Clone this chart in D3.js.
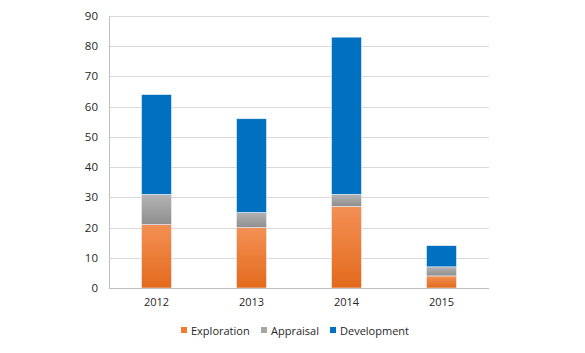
<!DOCTYPE html>
<html>
<head>
<meta charset="utf-8">
<script src="https://cdn.jsdelivr.net/npm/d3@7"></script>
<style>
  html, body { margin: 0; padding: 0; background: #fff; }
  svg { display: block; font-family: "Open Sans", "DejaVu Sans", sans-serif; }
</style>
</head>
<body>
<div id="chart"></div>
<script>
const years = ['2012', '2013', '2014', '2015'];
const seriesNames = ['Exploration', 'Appraisal', 'Development'];
const exploration = [21, 20, 27, 4];
const appraisal = [10, 5, 4, 3];
const development = [33, 31, 52, 7];
const yTicks = [0, 10, 20, 30, 40, 50, 60, 70, 80, 90];

const W = 585, H = 353;
const margin = { top: 16, right: 96, bottom: 65, left: 109 };

const svg = d3.select('#chart').append('svg')
  .attr('width', W)
  .attr('height', H);

const defs = svg.append('defs');
function grad(id, top, bottom) {
  const g = defs.append('linearGradient')
    .attr('id', id).attr('x1', 0).attr('y1', 0).attr('x2', 0).attr('y2', 1);
  g.append('stop').attr('offset', '0%').attr('stop-color', top);
  g.append('stop').attr('offset', '100%').attr('stop-color', bottom);
}
grad('g-expl', '#f39055', '#e36a1c');
grad('g-appr', '#b4b4b4', '#8e8e8e');

const fills = {
  'Exploration': 'url(#g-expl)',
  'Appraisal': 'url(#g-appr)',
  'Development': '#0070c0'
};
const legendColors = {
  'Exploration': '#f07c32',
  'Appraisal': '#a5a5a5',
  'Development': '#0070c0'
};

const rows = years.map((y, i) => ({
  year: y,
  Exploration: exploration[i],
  Appraisal: appraisal[i],
  Development: development[i]
}));

const x = d3.scaleBand()
  .domain(years)
  .range([margin.left, W - margin.right])
  .paddingInner(0.685)
  .paddingOuter(0.3425);

const y = d3.scaleLinear()
  .domain([0, 90])
  .range([H - margin.bottom, margin.top]);

// gridlines
svg.append('g')
  .selectAll('line')
  .data(yTicks)
  .join('line')
  .attr('x1', margin.left)
  .attr('x2', W - margin.right)
  .attr('y1', d => Math.round(y(d)) + 0.5)
  .attr('y2', d => Math.round(y(d)) + 0.5)
  .attr('stroke', '#d9d9d9')
  .attr('stroke-width', 1);

// y axis line
svg.append('line')
  .attr('x1', margin.left + 0.5).attr('x2', margin.left + 0.5)
  .attr('y1', y(90)).attr('y2', y(0))
  .attr('stroke', '#bfbfbf');

// y tick labels
svg.append('g')
  .selectAll('text')
  .data(yTicks)
  .join('text')
  .attr('x', margin.left - 11)
  .attr('y', d => y(d))
  .attr('dy', '0.35em')
  .attr('text-anchor', 'end')
  .attr('font-size', 11.5)
  .attr('fill', '#262626')
  .text(d => d);

// stacked bars
const stack = d3.stack().keys(seriesNames);
const layers = stack(rows);

svg.append('g')
  .selectAll('g')
  .data(layers)
  .join('g')
  .attr('fill', d => fills[d.key])
  .selectAll('rect')
  .data(d => d)
  .join('rect')
  .attr('x', d => x(d.data.year))
  .attr('width', x.bandwidth())
  .attr('y', d => y(d[1]))
  .attr('height', d => y(d[0]) - y(d[1]))
  .attr('stroke', '#e8eef5')
  .attr('stroke-width', 0.6);

// x axis line
svg.append('line')
  .attr('x1', margin.left).attr('x2', W - margin.right)
  .attr('y1', Math.round(y(0)) + 0.5).attr('y2', Math.round(y(0)) + 0.5)
  .attr('stroke', '#bfbfbf');

// x labels
svg.append('g')
  .selectAll('text')
  .data(years)
  .join('text')
  .attr('x', d => x(d) + x.bandwidth() / 2)
  .attr('y', y(0) + 18)
  .attr('text-anchor', 'middle')
  .attr('font-size', 11)
  .attr('fill', '#262626')
  .text(d => d);

// legend
const legendX = [181, 261, 330];
const legend = svg.append('g').attr('transform', 'translate(0, 331)');
const items = legend.selectAll('g')
  .data(seriesNames)
  .join('g')
  .attr('transform', (d, i) => `translate(${legendX[i]}, 0)`);
items.append('rect')
  .attr('x', 0).attr('y', -4)
  .attr('width', 6).attr('height', 6)
  .attr('fill', d => legendColors[d]);
items.append('text')
  .attr('x', 10)
  .attr('y', 0)
  .attr('dy', '0.32em')
  .attr('font-size', 11)
  .attr('fill', '#262626')
  .text(d => d);
</script>
</body>
</html>
